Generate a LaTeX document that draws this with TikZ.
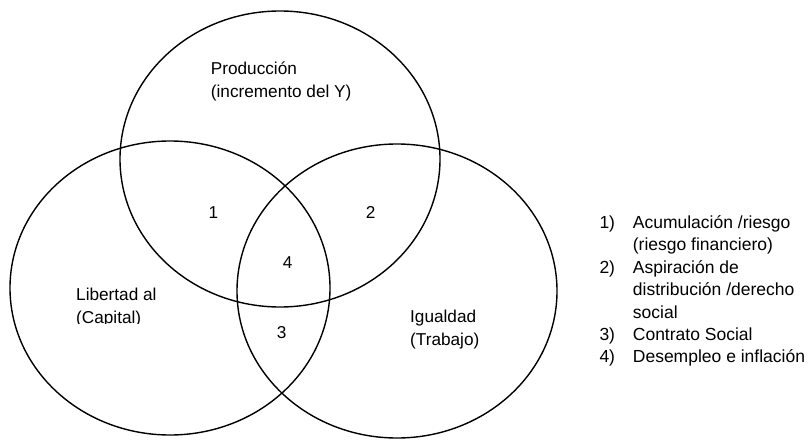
\documentclass[tikz,border=0pt]{standalone}
\usepackage{fontspec}
\setmainfont{Liberation Sans}
\usepackage{array}
% multi-line label whose reference point is the first baseline
\newcommand{\stacked}[1]{\begin{tabular}[t]{@{}l@{}}#1\end{tabular}}
\newcommand{\itemno}[1]{\makebox[33.4pt][l]{#1}}
\begin{document}
\begin{tikzpicture}[x=1pt,y=-1pt,
  venn/.style={draw=black,line width=1.4pt},
  label/.style={inner sep=0pt,anchor=base west,font=\fontsize{17.2}{22.6}\selectfont},
  region/.style={inner sep=0pt,anchor=base,font=\fontsize{17.2}{22.6}\selectfont},
  legend/.style={inner sep=0pt,anchor=base west,font=\fontsize{17.5}{22.4}\selectfont}]
\useasboundingbox (0,0) rectangle (808,441);

% the three sets
\draw[venn] (280,159) ellipse [x radius=160,y radius=148];
\draw[venn] (170,288) ellipse [x radius=160,y radius=147];
\draw[venn] (397,291) ellipse [x radius=160,y radius=147];

% set names
\node[label] (prod) at (210.7,75) {\stacked{Producción\\(incremento del Y)}};
\begin{scope}
  \clip (0,0) rectangle (808,323);
  \node[label] (lib) at (76,300.7) {\stacked{Libertad al\\(Capital)}};
\end{scope}
\node[label] (igu) at (410,322.5) {\stacked{Igualdad\\(Trabajo)}};

% overlap numbers
\node[region] (r1) at (213.3,218.3) {1};
\node[region] (r2) at (370.7,218.3) {2};
\node[region] (r4) at (287.7,268.7) {4};
\node[region] (r3) at (281.7,338.7) {3};

% key
\node[legend] (key) at (599.3,228.5) {\begin{tabular}[t]{@{}l@{}l@{}}
\itemno{1)} & Acumulación /riesgo\\
 & (riesgo financiero)\\
\itemno{2)} & Aspiración de\\
 & distribución /derecho\\
 & social\\
\itemno{3)} & Contrato Social\\
\itemno{4)} & Desempleo e inflación
\end{tabular}};
\end{tikzpicture}
\end{document}
